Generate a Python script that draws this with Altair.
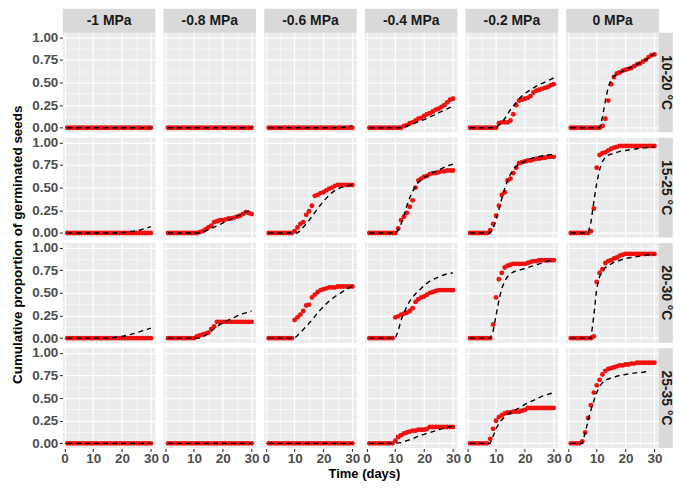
import altair as alt
import pandas as pd

temps = ["10-20 °C", "15-25 °C", "20-30 °C", "25-35 °C"]
wps = ["-1 MPa", "-0.8 MPa", "-0.6 MPa", "-0.4 MPa", "-0.2 MPa", "0 MPa"]
days = list(range(1, 31))

zeros30 = [0, 0, 0, 0, 0, 0, 0, 0, 0, 0, 0, 0, 0, 0, 0, 0, 0, 0, 0, 0, 0, 0, 0, 0, 0, 0, 0, 0, 0, 0]

# ---- observed cumulative proportions (red points), days 1..30 ----
obs_10_20 = [
    zeros30,
    zeros30,
    zeros30,
    [0, 0, 0, 0, 0, 0, 0, 0, 0, 0, 0, 0, 0.02, 0.03, 0.05, 0.06, 0.08, 0.10, 0.11, 0.13,
     0.15, 0.16, 0.18, 0.20, 0.21, 0.23, 0.25, 0.28, 0.31, 0.32],
    [0, 0, 0, 0, 0, 0, 0, 0, 0, 0, 0.05, 0.06, 0.06, 0.06, 0.08, 0.15, 0.25, 0.30, 0.31, 0.32,
     0.33, 0.35, 0.39, 0.41, 0.42, 0.43, 0.44, 0.45, 0.47, 0.48],
    [0, 0, 0, 0, 0, 0, 0, 0, 0, 0, 0, 0.02, 0.10, 0.30, 0.48, 0.56, 0.60, 0.61, 0.63, 0.64,
     0.65, 0.66, 0.68, 0.70, 0.71, 0.73, 0.75, 0.78, 0.80, 0.81],
]
obs_15_25 = [
    zeros30,
    [0, 0, 0, 0, 0, 0, 0, 0, 0, 0, 0, 0.01, 0.02, 0.04, 0.06, 0.08, 0.12, 0.13, 0.14, 0.14,
     0.15, 0.16, 0.16, 0.17, 0.18, 0.19, 0.21, 0.23, 0.22, 0.21],
    [0, 0, 0, 0, 0, 0, 0, 0, 0, 0.02, 0.06, 0.10, 0.12, 0.20, 0.24, 0.30, 0.41, 0.42, 0.44, 0.45,
     0.47, 0.49, 0.50, 0.52, 0.53, 0.53, 0.53, 0.53, 0.53, 0.53],
    [0, 0, 0, 0, 0, 0, 0, 0, 0, 0, 0.05, 0.14, 0.18, 0.22, 0.29, 0.36, 0.50, 0.58, 0.60, 0.62,
     0.63, 0.65, 0.66, 0.66, 0.67, 0.68, 0.68, 0.69, 0.69, 0.69],
    [0, 0, 0, 0, 0, 0, 0, 0.03, 0.10, 0.19, 0.30, 0.42, 0.45, 0.58, 0.60, 0.66, 0.72, 0.77, 0.78, 0.79,
     0.80, 0.80, 0.81, 0.82, 0.82, 0.83, 0.83, 0.84, 0.84, 0.84],
    [0, 0, 0, 0, 0, 0, 0, 0.02, 0.27, 0.72, 0.86, 0.88, 0.89, 0.91, 0.93, 0.94, 0.95, 0.96, 0.96, 0.96,
     0.96, 0.96, 0.96, 0.96, 0.96, 0.96, 0.96, 0.96, 0.96, 0.96],
]
obs_20_30 = [
    zeros30,
    [0, 0, 0, 0, 0, 0, 0, 0, 0, 0, 0.02, 0.03, 0.04, 0.05, 0.06, 0.10, 0.13, 0.18, 0.18, 0.18,
     0.18, 0.18, 0.18, 0.18, 0.18, 0.18, 0.18, 0.18, 0.18, 0.18],
    [0, 0, 0, 0, 0, 0, 0, 0, 0, 0.20, 0.23, 0.26, 0.30, 0.36, 0.37, 0.45, 0.48, 0.51, 0.53, 0.54,
     0.55, 0.56, 0.56, 0.56, 0.57, 0.57, 0.57, 0.57, 0.57, 0.57],
    [0, 0, 0, 0, 0, 0, 0, 0, 0, 0.23, 0.24, 0.26, 0.27, 0.28, 0.30, 0.33, 0.40, 0.43, 0.45, 0.46,
     0.48, 0.50, 0.51, 0.52, 0.53, 0.53, 0.53, 0.53, 0.53, 0.53],
    [0, 0, 0, 0, 0, 0, 0, 0, 0.15, 0.45, 0.65, 0.72, 0.78, 0.80, 0.81, 0.82, 0.82, 0.82, 0.82, 0.82,
     0.83, 0.84, 0.85, 0.85, 0.86, 0.86, 0.86, 0.86, 0.86, 0.86],
    [0, 0, 0, 0, 0, 0, 0, 0, 0.02, 0.62, 0.72, 0.76, 0.83, 0.85, 0.86, 0.88, 0.89, 0.91, 0.92, 0.93,
     0.93, 0.93, 0.93, 0.93, 0.93, 0.93, 0.93, 0.93, 0.93, 0.93],
]
obs_25_35 = [
    zeros30,
    zeros30,
    zeros30,
    [0, 0, 0, 0, 0, 0, 0, 0, 0, 0.03, 0.07, 0.09, 0.11, 0.12, 0.13, 0.14, 0.14, 0.15, 0.15, 0.15,
     0.16, 0.18, 0.18, 0.18, 0.18, 0.18, 0.18, 0.18, 0.18, 0.18],
    [0, 0, 0, 0, 0, 0, 0, 0.05, 0.16, 0.25, 0.29, 0.31, 0.33, 0.34, 0.34, 0.35, 0.35, 0.35, 0.36, 0.37,
     0.39, 0.39, 0.39, 0.39, 0.39, 0.39, 0.39, 0.39, 0.39, 0.39],
    [0, 0, 0, 0, 0.02, 0.12, 0.28, 0.42, 0.56, 0.64, 0.70, 0.76, 0.80, 0.82, 0.83, 0.84, 0.85, 0.86, 0.86, 0.87,
     0.87, 0.88, 0.88, 0.89, 0.89, 0.89, 0.89, 0.89, 0.89, 0.89],
]

# ---- model predictions (black dashed line), days 1..30 ----
mod_10_20 = [
    zeros30,
    zeros30,
    [0, 0, 0, 0, 0, 0, 0, 0, 0, 0, 0, 0, 0, 0, 0, 0, 0, 0, 0, 0,
     0, 0, 0, 0, 0, 0.003, 0.006, 0.01, 0.015, 0.02],
    [0, 0, 0, 0, 0, 0, 0, 0, 0, 0, 0, 0, 0.01, 0.02, 0.03, 0.04, 0.055, 0.07, 0.08, 0.09,
     0.105, 0.12, 0.135, 0.15, 0.165, 0.18, 0.195, 0.21, 0.225, 0.24],
    [0, 0, 0, 0, 0, 0, 0, 0, 0, 0, 0.03, 0.06, 0.10, 0.15, 0.20, 0.24, 0.28, 0.32, 0.35, 0.38,
     0.40, 0.42, 0.44, 0.46, 0.475, 0.49, 0.505, 0.52, 0.535, 0.55],
    [0, 0, 0, 0, 0, 0, 0, 0, 0, 0, 0, 0.12, 0.30, 0.45, 0.53, 0.57, 0.59, 0.61, 0.625, 0.64,
     0.655, 0.67, 0.685, 0.70, 0.715, 0.73, 0.75, 0.77, 0.795, 0.82],
]
mod_15_25 = [
    [0, 0, 0, 0, 0, 0, 0, 0, 0, 0, 0, 0, 0, 0, 0, 0, 0, 0, 0, 0.005,
     0.007, 0.01, 0.015, 0.02, 0.025, 0.03, 0.04, 0.05, 0.06, 0.07],
    [0, 0, 0, 0, 0, 0, 0, 0, 0, 0, 0, 0, 0.01, 0.02, 0.035, 0.05, 0.065, 0.08, 0.095, 0.11,
     0.125, 0.14, 0.155, 0.17, 0.185, 0.20, 0.215, 0.23, 0.245, 0.26],
    [0, 0, 0, 0, 0, 0, 0, 0, 0, 0, 0, 0.03, 0.065, 0.10, 0.14, 0.18, 0.225, 0.27, 0.31, 0.35,
     0.385, 0.42, 0.445, 0.47, 0.485, 0.50, 0.51, 0.52, 0.525, 0.53],
    [0, 0, 0, 0, 0, 0, 0, 0, 0, 0, 0.03, 0.10, 0.20, 0.30, 0.39, 0.46, 0.52, 0.56, 0.59, 0.61,
     0.63, 0.65, 0.665, 0.68, 0.695, 0.71, 0.725, 0.74, 0.75, 0.76],
    [0, 0, 0, 0, 0, 0, 0, 0, 0.05, 0.14, 0.26, 0.38, 0.49, 0.58, 0.65, 0.70, 0.735, 0.76, 0.775, 0.79,
     0.805, 0.82, 0.83, 0.84, 0.845, 0.85, 0.855, 0.86, 0.865, 0.87],
    [0, 0, 0, 0, 0, 0, 0, 0.12, 0.35, 0.55, 0.70, 0.79, 0.84, 0.86, 0.87, 0.88, 0.89, 0.90, 0.905, 0.91,
     0.915, 0.92, 0.925, 0.93, 0.935, 0.94, 0.94, 0.945, 0.95, 0.95],
]
mod_20_30 = [
    [0, 0, 0, 0, 0, 0, 0, 0, 0, 0, 0, 0, 0, 0, 0, 0.003, 0.006, 0.01, 0.015, 0.02,
     0.027, 0.035, 0.042, 0.05, 0.06, 0.07, 0.08, 0.09, 0.10, 0.11],
    [0, 0, 0, 0, 0, 0, 0, 0, 0, 0, 0, 0, 0.015, 0.03, 0.055, 0.08, 0.105, 0.13, 0.15, 0.17,
     0.185, 0.20, 0.215, 0.23, 0.245, 0.26, 0.27, 0.28, 0.29, 0.30],
    [0, 0, 0, 0, 0, 0, 0, 0, 0, 0, 0.03, 0.06, 0.095, 0.13, 0.165, 0.20, 0.24, 0.28, 0.315, 0.35,
     0.38, 0.41, 0.435, 0.46, 0.48, 0.50, 0.52, 0.54, 0.555, 0.57],
    [0, 0, 0, 0, 0, 0, 0, 0, 0, 0, 0.08, 0.20, 0.28, 0.35, 0.41, 0.45, 0.49, 0.52, 0.55, 0.58,
     0.605, 0.63, 0.645, 0.66, 0.675, 0.69, 0.70, 0.71, 0.715, 0.72],
    [0, 0, 0, 0, 0, 0, 0, 0, 0.08, 0.25, 0.42, 0.55, 0.63, 0.68, 0.71, 0.73, 0.74, 0.75, 0.76, 0.77,
     0.78, 0.79, 0.80, 0.81, 0.82, 0.83, 0.84, 0.85, 0.855, 0.86],
    [0, 0, 0, 0, 0, 0, 0, 0, 0.25, 0.55, 0.68, 0.74, 0.78, 0.80, 0.82, 0.84, 0.85, 0.86, 0.87, 0.88,
     0.885, 0.89, 0.895, 0.90, 0.905, 0.91, 0.915, 0.92, 0.92, 0.92],
]
mod_25_35 = [
    zeros30,
    zeros30,
    zeros30,
    [0, 0, 0, 0, 0, 0, 0, 0, 0, 0, 0.005, 0.01, 0.02, 0.03, 0.04, 0.05, 0.065, 0.08, 0.09, 0.10,
     0.11, 0.12, 0.13, 0.14, 0.15, 0.16, 0.17, 0.18, 0.185, 0.19],
    [0, 0, 0, 0, 0, 0, 0, 0, 0.08, 0.16, 0.22, 0.26, 0.29, 0.32, 0.34, 0.36, 0.375, 0.39, 0.41, 0.43,
     0.445, 0.46, 0.475, 0.49, 0.505, 0.52, 0.53, 0.54, 0.55, 0.56],
    [0, 0, 0, 0, 0, 0.12, 0.25, 0.37, 0.47, 0.56, 0.63, 0.67, 0.70, 0.71, 0.72, 0.73, 0.74, 0.75, 0.755, 0.76,
     0.765, 0.77, 0.775, 0.78, 0.78, 0.785, 0.79, 0.79, None, None],
]

obs_all = [obs_10_20, obs_15_25, obs_20_30, obs_25_35]
mod_all = [mod_10_20, mod_15_25, mod_20_30, mod_25_35]

rows = []
for ti, t in enumerate(temps):
    for wi, w in enumerate(wps):
        for d, v in zip(days, obs_all[ti][wi]):
            rows.append({"temp": t, "wp": w, "kind": "obs", "day": d, "value": v})
        for d, v in zip(days, mod_all[ti][wi]):
            if v is not None:
                rows.append({"temp": t, "wp": w, "kind": "model", "day": d, "value": v})
        if ti == 0:
            rows.append({"temp": t, "wp": w, "kind": "colstrip", "day": 0, "value": 0})
        if wi == len(wps) - 1:
            rows.append({"temp": t, "wp": w, "kind": "rowstrip", "day": 0, "value": 0})
df = pd.DataFrame(rows)

PW, PH = 92.8, 100
SW = 14  # right strip width
FONT = "Liberation Sans"

x_major = "datum.value % 10 == 0"
y_major = "datum.value * 4 % 1 == 0"

x_enc = alt.X(
    "day:Q",
    scale=alt.Scale(domain=[-0.55, 31.55], nice=False, zero=False),
    axis=alt.Axis(
        title=None,
        values=[0, 5, 10, 15, 20, 25, 30],
        labelExpr=f"{x_major} ? datum.label : ''",
        gridWidth={"condition": {"test": x_major, "value": 1.2}, "value": 0.55},
        tickOpacity={"condition": {"test": x_major, "value": 1}, "value": 0},
        labelOverlap=False,
        labelFlush=False,
        labelPadding=0.5,
        tickSize=3,
    ),
)
y_enc = alt.Y(
    "value:Q",
    scale=alt.Scale(domain=[-0.05, 1.05], nice=False, zero=False),
    axis=alt.Axis(
        title=None,
        values=[0, 0.125, 0.25, 0.375, 0.5, 0.625, 0.75, 0.875, 1.0],
        labelExpr=f"{y_major} ? format(datum.value, '.2f') : ''",
        gridWidth={"condition": {"test": y_major, "value": 1.2}, "value": 0.55},
        tickOpacity={"condition": {"test": y_major, "value": 1}, "value": 0},
        labelOverlap=False,
        labelFlush=False,
        labelPadding=1.5,
        tickSize=3.5,
    ),
)

points = alt.Chart().mark_circle(size=24, color="#F01010", opacity=1).encode(
    x=x_enc, y=y_enc
).transform_filter("datum.kind == 'obs'")

line = alt.Chart().mark_line(color="black", strokeWidth=1.4, strokeDash=[5, 4]).encode(
    x=x_enc, y=y_enc
).transform_filter("datum.kind == 'model'")

col_rect = alt.Chart().mark_rect(color="#D9D9D9").encode(
    x=alt.value(0), x2=alt.value(PW), y=alt.value(-24), y2=alt.value(0)
).transform_filter("datum.kind == 'colstrip'")

col_text = alt.Chart().mark_text(
    font=FONT, fontSize=14, fontWeight="bold", color="#1A1A1A", align="center", baseline="middle"
).encode(
    x=alt.value(PW / 2), y=alt.value(-12), text="wp:N"
).transform_filter("datum.kind == 'colstrip'")

row_rect = alt.Chart().mark_rect(color="#D9D9D9").encode(
    x=alt.value(PW), x2=alt.value(PW + SW), y=alt.value(0), y2=alt.value(PH)
).transform_filter("datum.kind == 'rowstrip'")

row_text = alt.Chart().mark_text(
    font=FONT, fontSize=14, fontWeight="bold", color="#1A1A1A", align="center", baseline="middle", angle=90
).encode(
    x=alt.value(PW + SW / 2 + 0.5), y=alt.value(PH / 2), text="temp:N"
).transform_filter("datum.kind == 'rowstrip'")

panel = alt.layer(points, line, col_rect, col_text, row_rect, row_text, data=df).properties(
    width=PW, height=PH
)

inner = panel.facet(
    row=alt.Row("temp:N", sort=temps, title=None, header=alt.Header(labels=False)),
    column=alt.Column("wp:N", sort=wps, title=None, header=alt.Header(labels=False)),
    spacing={"row": 5.5, "column": 8},
    bounds="flush",
).properties(
    title=alt.TitleParams(
        "Time (days)", orient="bottom", anchor="middle", font=FONT, fontSize=13,
        fontWeight="bold", color="black", offset=2.5, dx=12
    )
)

chart = alt.vconcat(inner).properties(
    title=alt.TitleParams(
        "Cumulative proportion of germinated seeds", orient="left", anchor="middle",
        font=FONT, fontSize=13.5, fontWeight="bold", color="black", offset=7
    ),
    padding={"left": 3, "top": 0, "right": 0, "bottom": 0},
).configure_view(
    fill="#EBEBEB", strokeWidth=0
).configure_axis(
    domain=False,
    gridColor="white",
    labelFont=FONT,
    labelFontSize=13.5,
    labelFontWeight="bold",
    labelColor="#4D4D4D",
    tickColor="#333333",
    tickWidth=1.1,
)

chart.save("out.html", embed_options={"renderer": "svg", "actions": False})
